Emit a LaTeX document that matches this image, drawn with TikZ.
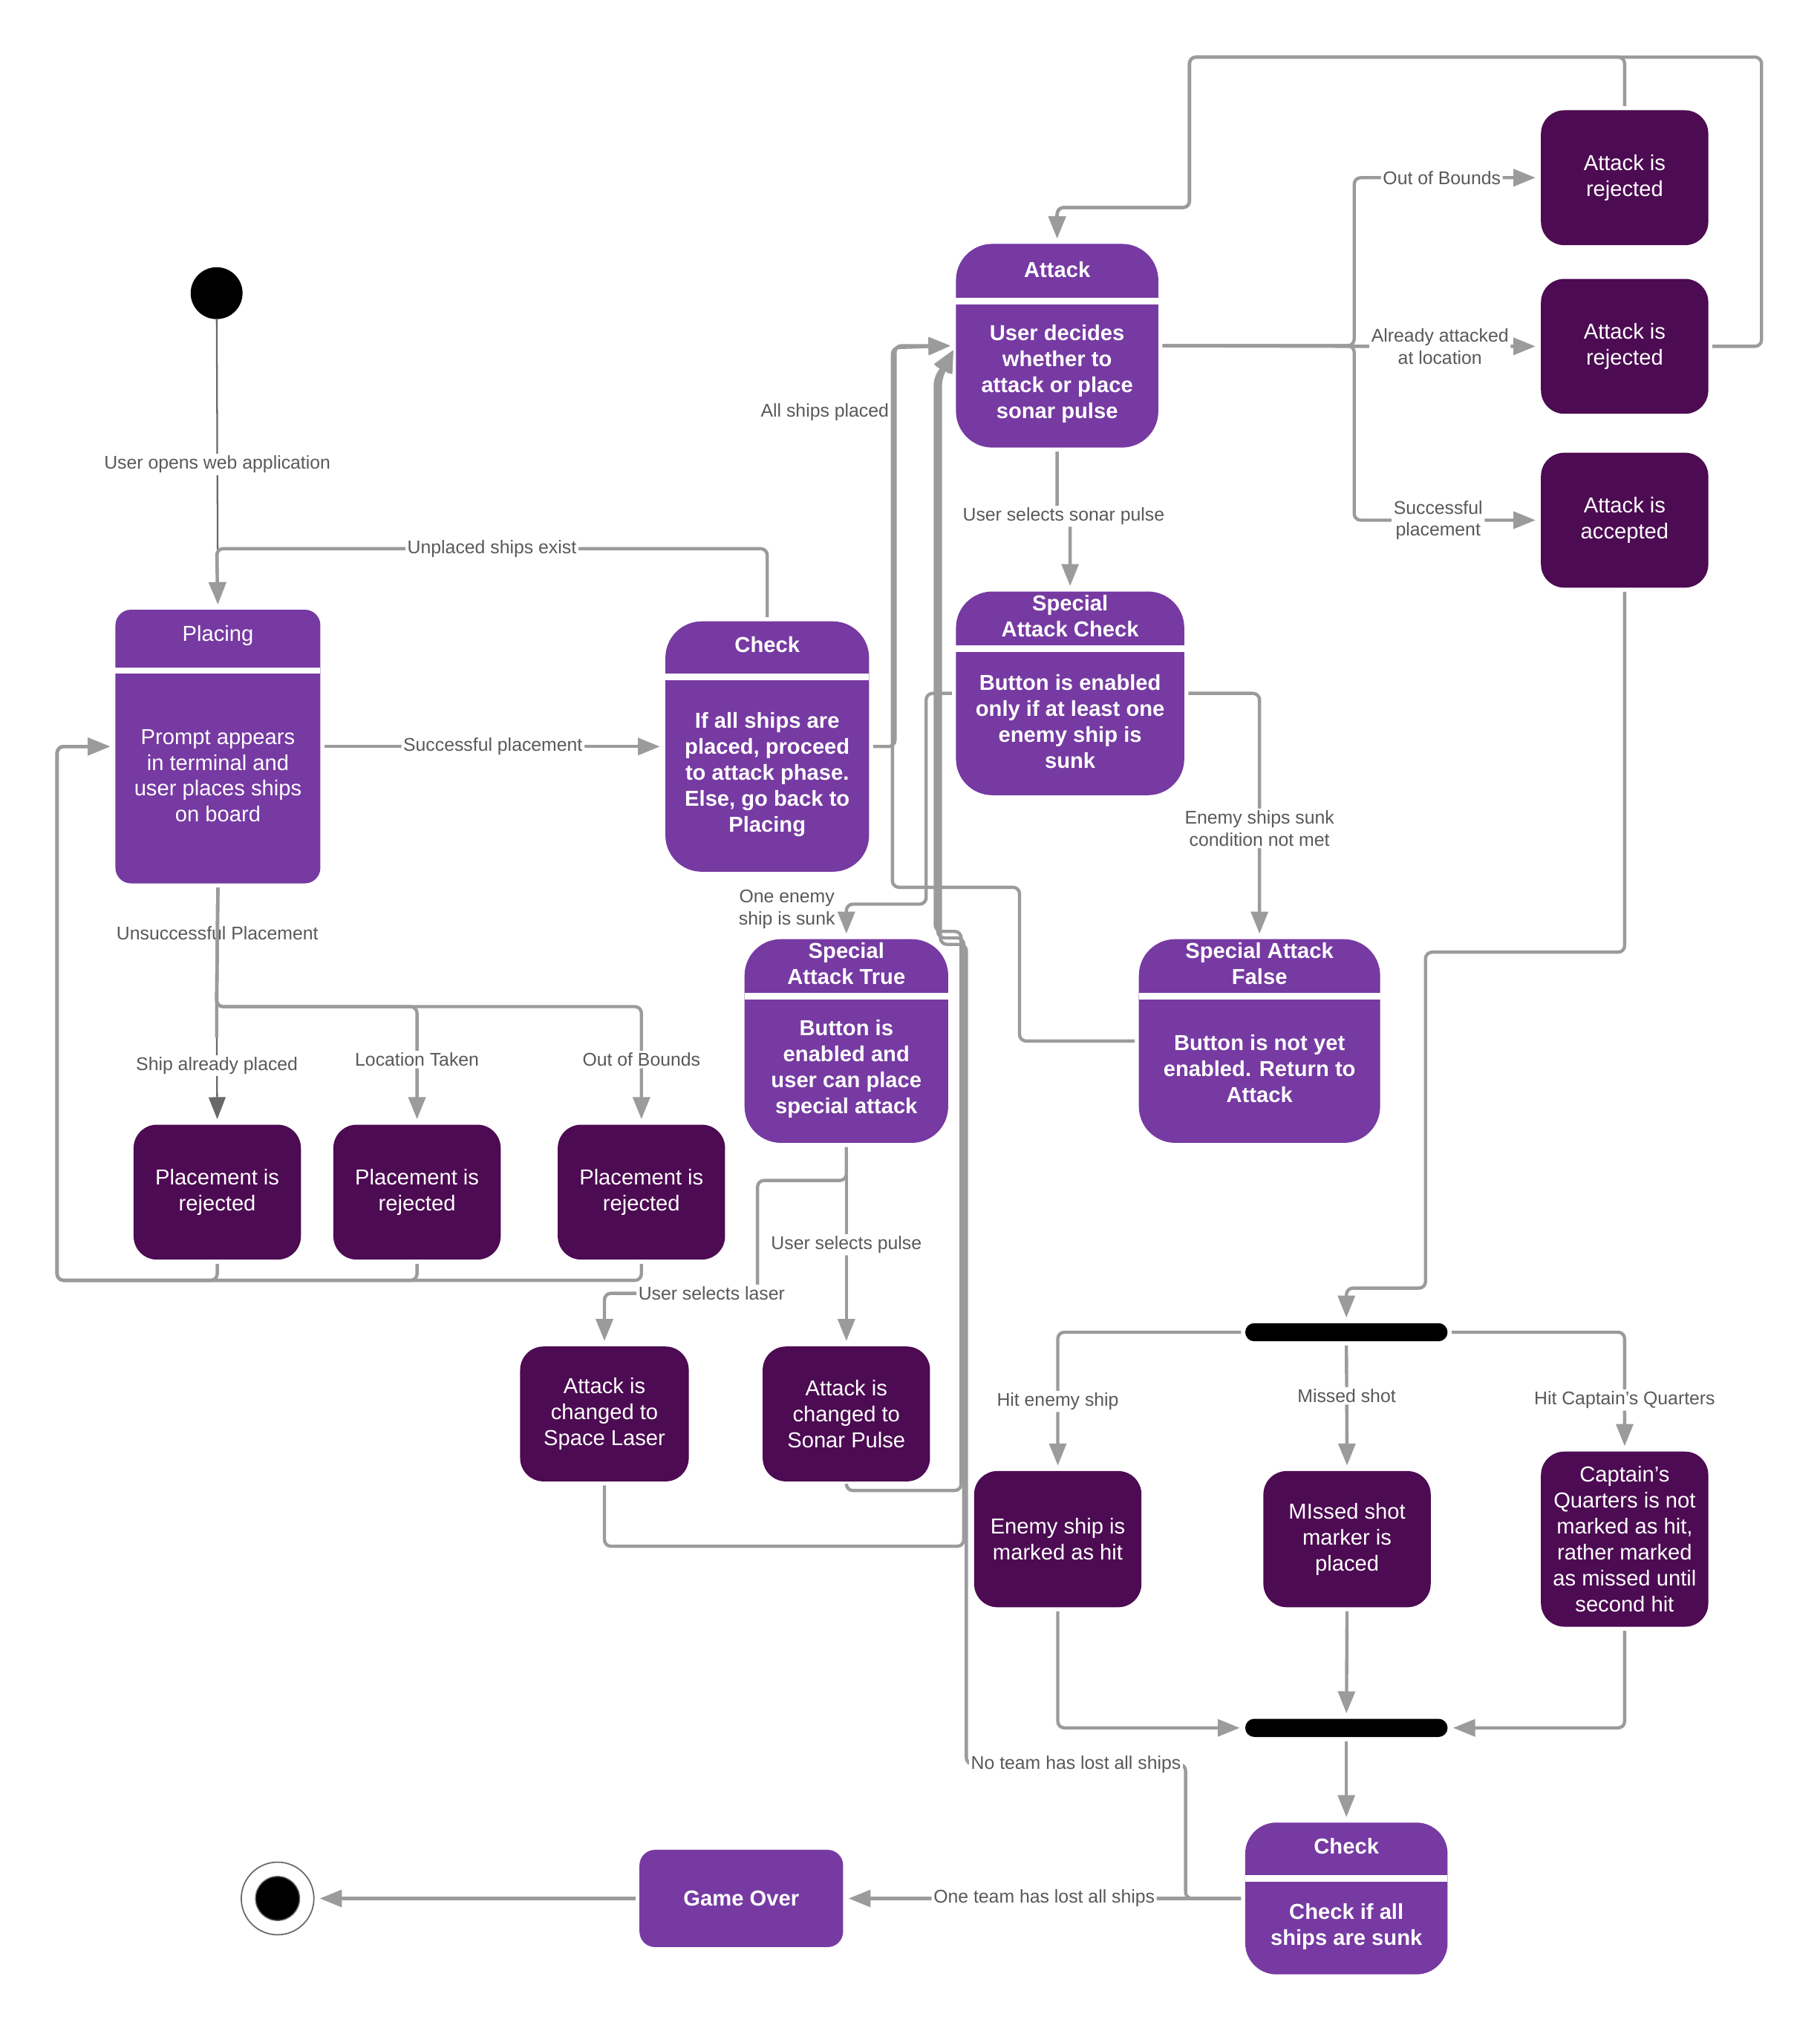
\documentclass[tikz,border=0pt]{standalone}
\usepackage{fontspec}
\setmainfont{Liberation Sans}
\usetikzlibrary{arrows.meta}
\definecolor{lpurple}{RGB}{118,58,162}
\definecolor{dpurple}{RGB}{76,11,82}
\definecolor{lgray}{RGB}{155,155,155}
\definecolor{dgray}{RGB}{105,105,105}
\definecolor{tgray}{RGB}{89,89,89}
\tikzset{
  lstate/.style={fill=lpurple, draw=none, inner sep=0pt},
  dstate/.style={fill=dpurple, draw=none, rounded corners=18pt, minimum width=129pt,
    minimum height=104pt, text=white, align=center, inner sep=0pt,
    font=\fontsize{16.7}{20}\selectfont},
  ttl/.style={text=white, align=center, inner sep=0pt, font=\fontsize{16.7}{20}\selectfont\bfseries},
  ttlr/.style={text=white, align=center, inner sep=0pt, font=\fontsize{16.7}{20}\selectfont},
  bdy/.style={text=white, align=center, inner sep=0pt, font=\fontsize{16.7}{20}\selectfont\bfseries},
  bdyr/.style={text=white, align=center, inner sep=0pt, font=\fontsize{16.7}{20}\selectfont},
  sepline/.style={white, line width=5pt},
  conn/.style={draw=lgray, line width=2.5pt, rounded corners=5pt,
    -{Triangle[length=17pt,width=13pt]}, shorten >=4pt, shorten <=3pt},
  darkconn/.style={draw=dgray, line width=1.3pt,
    -{Triangle[length=17pt,width=13pt]}, shorten >=4pt},
  plain/.style={draw=lgray, line width=2.5pt, rounded corners=5pt, shorten <=3pt},
  lbl/.style={fill=white, text=tgray, font=\fontsize{14.2}{17}\selectfont, inner sep=1.5pt, align=center},
  syncbar/.style={fill=black, draw=none, rounded corners=7pt, minimum width=156pt,
    minimum height=14pt, inner sep=0pt},
}
\begin{document}
\begin{tikzpicture}[x=1pt,y=-1pt]
\useasboundingbox[fill=white] (0,0) rectangle (1403,1568);

% ---------- initial / final ----------
\node[circle, fill=black, minimum size=40pt, inner sep=0pt] (init) at (167,226) {};
\node[circle, draw=dgray, line width=1pt, fill=white, minimum size=56pt, inner sep=0pt] (final) at (214,1463.5) {};
\node[circle, draw=dgray, line width=0.8pt, fill=black, minimum size=34pt, inner sep=0pt] (finaldot) at (214,1463.5) {};

% ---------- composite (light) states ----------
% Placing
\node[lstate, rounded corners=12pt, minimum width=158pt, minimum height=211pt] (placing) at (168,575.5) {};
\draw[sepline] (89,517) -- (247,517);
\node[ttlr] (placingT) at (168,490) {Placing};
\node[bdyr] (placingB) at (168,598) {Prompt appears\\in terminal and\\user places ships\\on board};

% Check (placement)
\node[lstate, rounded corners=28pt, minimum width=157pt, minimum height=193pt] (check) at (591.5,575.5) {};
\draw[sepline] (513,522) -- (670,522);
\node[ttl] (checkT) at (591.5,497) {Check};
\node[bdy] (checkB) at (591.5,597) {If all ships are\\placed, proceed\\to attack phase.\\Else, go back to\\Placing};

% Attack
\node[lstate, rounded corners=28pt, minimum width=156pt, minimum height=157pt] (attack) at (815,266.5) {};
\draw[sepline] (737,232) -- (893,232);
\node[ttl] (attackT) at (815,208) {Attack};
\node[bdy] (attackB) at (815,288) {User decides\\whether to\\attack or place\\sonar pulse};

% Special Attack Check
\node[lstate, rounded corners=28pt, minimum width=176pt, minimum height=157pt] (sac) at (825,534.5) {};
\draw[sepline] (737,500) -- (913,500);
\node[ttl] (sacT) at (825,475) {Special\\Attack Check};
\node[bdy] (sacB) at (825,556) {Button is enabled\\only if at least one\\enemy ship is\\sunk};

% Special Attack True
\node[lstate, rounded corners=28pt, minimum width=157pt, minimum height=157pt] (sat) at (652.5,802.5) {};
\draw[sepline] (574,768) -- (731,768);
\node[ttl] (satT) at (652.5,743) {Special\\Attack True};
\node[bdy] (satB) at (652.5,824) {Button is\\enabled and\\user can place\\special attack};

% Special Attack False
\node[lstate, rounded corners=28pt, minimum width=186pt, minimum height=157pt] (saf) at (971,802.5) {};
\draw[sepline] (878,768) -- (1064,768);
\node[ttl] (safT) at (971,743) {Special Attack\\False};
\node[bdy] (safB) at (971,824) {Button is not yet\\enabled. Return to\\Attack};

% Check (end)
\node[lstate, rounded corners=24pt, minimum width=156pt, minimum height=117pt] (checkF) at (1038,1463.5) {};
\draw[sepline] (960,1448) -- (1116,1448);
\node[ttl] (checkFT) at (1038,1423) {Check};
\node[bdy] (checkFB) at (1038,1485) {Check if all\\ships are sunk};

% Game Over
\node[lstate, rounded corners=12pt, minimum width=157pt, minimum height=75pt, text=white,
  font=\fontsize{16.7}{20}\selectfont\bfseries] (gameover) at (571.5,1463.5) {Game Over};

% ---------- dark states ----------
\node[dstate] (rej1) at (1252.5,137) {Attack is\\rejected};
\node[dstate] (rej2) at (1252.5,267) {Attack is\\rejected};
\node[dstate] (acc) at (1252.5,401) {Attack is\\accepted};
\node[dstate] (prej1) at (167.5,919) {Placement is\\rejected};
\node[dstate] (prej2) at (321.5,919) {Placement is\\rejected};
\node[dstate] (prej3) at (494.5,919) {Placement is\\rejected};
\node[dstate, minimum width=130pt] (laser) at (466,1090) {Attack is\\changed to\\Space Laser};
\node[dstate] (sonarP) at (652.5,1090) {Attack is\\changed to\\Sonar Pulse};
\node[dstate, minimum height=105pt] (enemy) at (815.5,1186.5) {Enemy ship is\\marked as hit};
\node[dstate, minimum height=105pt] (missed) at (1038.5,1186.5) {MIssed shot\\marker is\\placed};
\node[dstate, minimum height=135pt] (capt) at (1252.5,1186.5) {Captain's\\Quarters is not\\marked as hit,\\rather marked\\as missed until\\second hit};

% ---------- sync bars ----------
\node[syncbar] (bar1) at (1038,1027) {};
\node[syncbar] (bar2) at (1038,1332) {};

% ---------- connectors ----------
% start
\draw[darkconn, -{Triangle[length=17pt,width=13pt,color=lgray]}] (init) -- node[lbl]{User opens web application} (placing.north);
\draw[conn] (check.north) -- (591.5,423) -- node[lbl]{Unplaced ships exist} (167,423) -- (placing.north);
\draw[conn] (placing.east) -- node[lbl]{Successful placement} (check.west);
\draw[conn] (check.east) -- (690,575.5) -- node[lbl, pos=0.835, left=2pt, fill=none]{All ships placed} (690,266.5) -- (attack.west);
\draw[conn] (saf.west) -- (786,802.5) -- (786,684) -- (688,684) -- (688,268) -- (attack.west);

% placement rejections
\draw[darkconn] (167,776) -- node[lbl]{Ship already placed} (prej1.north);
\draw[plain] (placing.south) -- node[lbl, pos=0.4]{Unsuccessful Placement} (167,776) -- (167,800);
\draw[conn] (placing.south) -- (167,776) -- (321.5,776) -- node[lbl, pos=0.45]{Location Taken} (prej2.north);
\draw[conn] (placing.south) -- (167,776) -- (494.5,776) -- node[lbl, pos=0.45]{Out of Bounds} (prej3.north);
\draw[conn] (prej1.south) -- (167.5,987) -- (44,987) -- (44,575.5) -- (placing.west);
\draw[conn] (prej2.south) -- (321.5,987) -- (44,987) -- (44,575.5) -- (placing.west);
\draw[conn] (prej3.south) -- (494.5,987) -- (44,987) -- (44,575.5) -- (placing.west);

% attack outcomes
\draw[conn] (attack.east) -- (1044,266.5) -- (1044,137) -- node[lbl, pos=0.47]{Out of Bounds} (rej1.west);
\draw[conn] (attack.east) -- (1044,267) -- node[lbl, pos=0.46]{Already attacked\\at location} (rej2.west);
\draw[conn] (attack.east) -- (1044,266.5) -- (1044,401) -- node[lbl, pos=0.45]{Successful\\placement} (acc.west);
\draw[conn] (rej1.north) -- (1252.5,44) -- (917,44) -- (917,160) -- (815,160) -- (attack.north);
\draw[conn] (rej2.east) -- (1358,267) -- (1358,44) -- (917,44) -- (917,160) -- (815,160) -- (attack.north);

% special attack
\draw[conn] (attack.south) -- (815,398) -- node[lbl]{User selects sonar pulse} (825,398) -- (sac.north);
\draw[conn] (sac.east) -- (971,534.5) -- node[lbl, pos=0.55]{Enemy ships sunk\\condition not met} (saf.north);
\draw[conn] (sac.west) -- (714,534.5) -- (714,697) -- (652.5,697) -- node[lbl, pos=0.15, left=6pt, fill=none]{One enemy\\ship is sunk} (sat.north);
\draw[conn] (sat.south) -- node[lbl]{User selects pulse} (sonarP.north);
\draw[conn] (sat.south) -- (652.5,910) -- (584,910) -- (584,997) -- node[lbl, pos=0.3]{User selects laser} (466,997) -- (laser.north);

% returns to attack
\draw[conn] (sonarP.south) -- (652.5,1149) -- (741,1149) -- (741,718) -- (721,718) -- (721,292) -- (attack.west);
\draw[conn] (laser.south) -- (466,1192) -- (743,1192) -- (743,723) -- (723,723) -- (723,292) -- (attack.west);
\draw[conn] (checkF.west) -- (914,1463.5) -- (914,1360) -- node[lbl]{No team has lost all ships} (745,1360) -- (745,728) -- (725,728) -- (725,292) -- (attack.west);

% resolution
\draw[conn] (acc.south) -- (1252.5,734) -- (1099,734) -- (1099,993) -- (1038,993) -- (bar1.north);
\draw[conn] (bar1.west) -- (815.5,1027) -- node[lbl]{Hit enemy ship} (enemy.north);
\draw[conn] (bar1.south) -- node[lbl, pos=0.42]{Missed shot} (missed.north);
\draw[conn] (bar1.east) -- (1252.5,1027) -- node[lbl, pos=0.57]{Hit Captain's Quarters} (capt.north);
\draw[conn] (enemy.south) -- (815.5,1332) -- (bar2.west);
\draw[conn] (missed.south) -- (bar2.north);
\draw[conn] (capt.south) -- (1252.5,1332) -- (bar2.east);
\draw[conn] (bar2.south) -- (checkF.north);

% end
\draw[conn] (checkF.west) -- node[lbl]{One team has lost all ships} (gameover.east);
\draw[conn] (gameover.west) -- (final.east);
\end{tikzpicture}
\end{document}
